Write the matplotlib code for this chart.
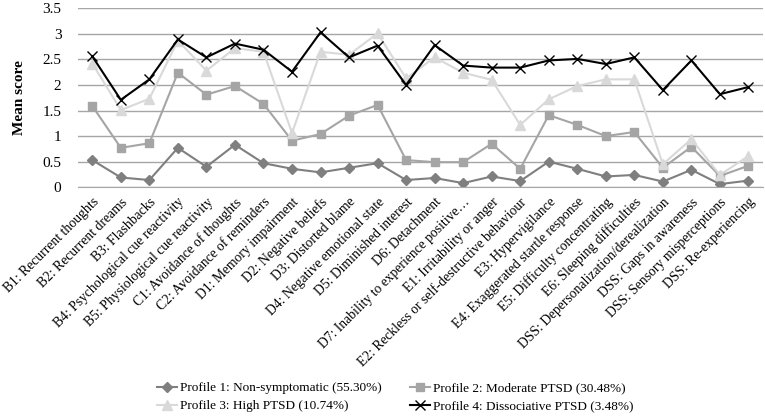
import matplotlib
matplotlib.use("Agg")
import matplotlib.pyplot as plt

plt.rcParams['font.family'] = ['Liberation Serif', 'DejaVu Serif']

symptoms = ["B1: Recurrent thoughts", "B2: Recurrent dreams", "B3: Flashbacks",
            "B4: Psychological cue reactivity", "B5: Physiological cue reactivity",
            "C1: Avoidance of thoughts", "C2: Avoidance of reminders",
            "D1: Memory impairment", "D2: Negative beliefs", "D3: Distorted blame",
            "D4: Negative emotional state", "D5: Diminished interest",
            "D6: Detachment", "D7: Inability to experience positive\u2026",
            "E1: Irritability or anger", "E2: Reckless or self-destructive behaviour",
            "E3: Hypervigilance", "E4: Exaggerated startle response",
            "E5: Difficulty concentrating", "E6: Sleeping difficulties",
            "DSS: Depersonalization/derealization", "DSS: Gaps in awareness",
            "DSS: Sensory misperceptions", "DSS: Re-experiencing"]

profile1 = [0.53, 0.19, 0.14, 0.77, 0.40, 0.83, 0.47, 0.36, 0.29, 0.38, 0.47, 0.14,
            0.18, 0.08, 0.21, 0.12, 0.50, 0.36, 0.21, 0.24, 0.11, 0.34, 0.06, 0.13]
profile2 = [1.59, 0.77, 0.86, 2.24, 1.81, 1.98, 1.63, 0.91, 1.04, 1.40, 1.61, 0.53,
            0.49, 0.49, 0.85, 0.36, 1.41, 1.22, 1.00, 1.08, 0.38, 0.79, 0.22, 0.42]
profile3 = [2.42, 1.51, 1.73, 2.87, 2.28, 2.72, 2.65, 1.06, 2.65, 2.59, 3.01, 2.13,
            2.54, 2.24, 2.10, 1.22, 1.72, 1.98, 2.11, 2.11, 0.45, 0.94, 0.24, 0.61]
profile4 = [2.56, 1.71, 2.11, 2.89, 2.54, 2.81, 2.69, 2.26, 3.03, 2.54, 2.77, 2.00,
            2.78, 2.38, 2.34, 2.34, 2.48, 2.51, 2.41, 2.54, 1.90, 2.48, 1.82, 1.96]

labels = ["Profile 1: Non-symptomatic (55.30%)", "Profile 2: Moderate PTSD (30.48%)",
          "Profile 3: High PTSD (10.74%)", "Profile 4: Dissociative PTSD (3.48%)"]

fig = plt.figure(figsize=(7.65, 4.16), dpi=100)
ax = fig.add_axes([0.102, 0.55, 0.895, 0.43])

x = range(len(symptoms))
l1, = ax.plot(x, profile1, color='#7f7f7f', marker='D', markersize=5, lw=1.5, label=labels[0])
l2, = ax.plot(x, profile2, color='#a5a5a5', marker='s', markersize=6, lw=1.5, label=labels[1])
l3, = ax.plot(x, profile3, color='#d9d9d9', marker='^', markersize=7, lw=1.5, label=labels[2])
l4, = ax.plot(x, profile4, color='black', marker='x', markersize=7, lw=1.5, label=labels[3])

ax.set_xlim(-0.5, len(symptoms) - 0.5)
ax.set_ylim(0, 3.5)
ax.set_yticks([0, 0.5, 1, 1.5, 2, 2.5, 3, 3.5])
ax.set_yticklabels(['0', '0.5', '1', '1.5', '2', '2.5', '3', '3.5'], fontsize=11)
ax.yaxis.grid(True, color='#a6a6a6', lw=1)
ax.set_axisbelow(True)
for s in ['top', 'right', 'left']:
    ax.spines[s].set_visible(False)
ax.spines['bottom'].set_color('#a6a6a6')
ax.tick_params(axis='both', length=0)
ax.tick_params(axis='y', pad=12)

ax.set_xticks(list(x))
ax.set_xticklabels(symptoms, rotation=45, ha='right', rotation_mode='anchor', fontsize=9.8)
ax.tick_params(axis='x', pad=6)
ax.set_ylabel('Mean score', fontsize=11, fontweight='bold', labelpad=12)

# column-major legend order so rows read P1 P2 / P3 P4
fig.legend([l1, l3, l2, l4], [labels[0], labels[2], labels[1], labels[3]],
           loc='lower left', bbox_to_anchor=(0.19, -0.02), ncol=2, frameon=False,
           fontsize=9.5, handlelength=1.5, handletextpad=0.2, columnspacing=2.2,
           labelspacing=0.45)

fig.savefig('out.png', dpi=100)
